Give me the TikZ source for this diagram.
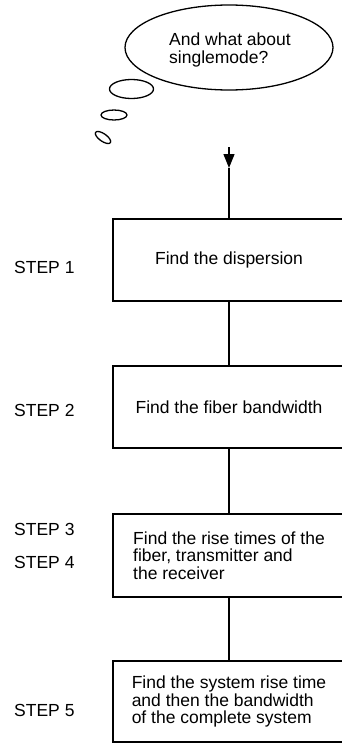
\documentclass[tikz,border=0pt]{standalone}
\usepackage{fontspec}
\setmainfont{Liberation Sans}
\usetikzlibrary{arrows.meta}
\begin{document}
\begin{tikzpicture}[x=1pt,y=-1pt,
  every node/.style={font=\fontsize{17.5}{17.5}\selectfont},
  line/.style={line width=1.3pt},
  stepbox/.style={draw,line width=1.3pt,minimum width=232pt,inner sep=0pt,align=left},
  steplabel/.style={anchor=west,inner sep=0pt},
  bubble/.style={draw,line width=1.3pt}]
\useasboundingbox (0,0) rectangle (342,744);
% thought cloud
\draw[bubble] (229,47.5) ellipse [x radius=104, y radius=42.5];
\node[align=left,anchor=center] (thought) at (230,50) {And what about\\singlemode?};
\draw[bubble] (131.5,89) ellipse [x radius=22, y radius=9.5];
\draw[bubble] (114,115) ellipse [x radius=13, y radius=5];
\draw[bubble,rotate around={-35:(103,137.5)}] (103,137.5) ellipse [x radius=9, y radius=3.8];
% boxes
\node[stepbox,minimum height=82pt] (b1) at (229,260) {Find the dispersion};
\node[stepbox,minimum height=82pt] (b2) at (229,407) {Find the fiber bandwidth};
\node[stepbox,minimum height=83pt] (b3) at (229,555.5) {Find the rise times of the\\fiber, transmitter and\\the receiver};
\node[stepbox,minimum height=81pt] (b4) at (229,701.5) {Find the system rise time\\and then the bandwidth\\of the complete system};
% connectors
\coordinate (start) at (229,147);
\coordinate (tip) at (229,168);
\draw[line,-{Triangle[length=14pt,width=11pt]}] (start) -- (tip);
\draw[line] (tip) -- (b1.north);
\draw[line] (b1.south) -- (b2.north);
\draw[line] (b2.south) -- (b3.north);
\draw[line] (b3.south) -- (b4.north);
% step labels
\node[steplabel] (s1) at (14,267) {STEP 1};
\node[steplabel] (s2) at (14,410) {STEP 2};
\node[steplabel] (s3) at (14,529) {STEP 3};
\node[steplabel] (s4) at (14,562) {STEP 4};
\node[steplabel] (s5) at (14,710) {STEP 5};
\end{tikzpicture}
\end{document}
